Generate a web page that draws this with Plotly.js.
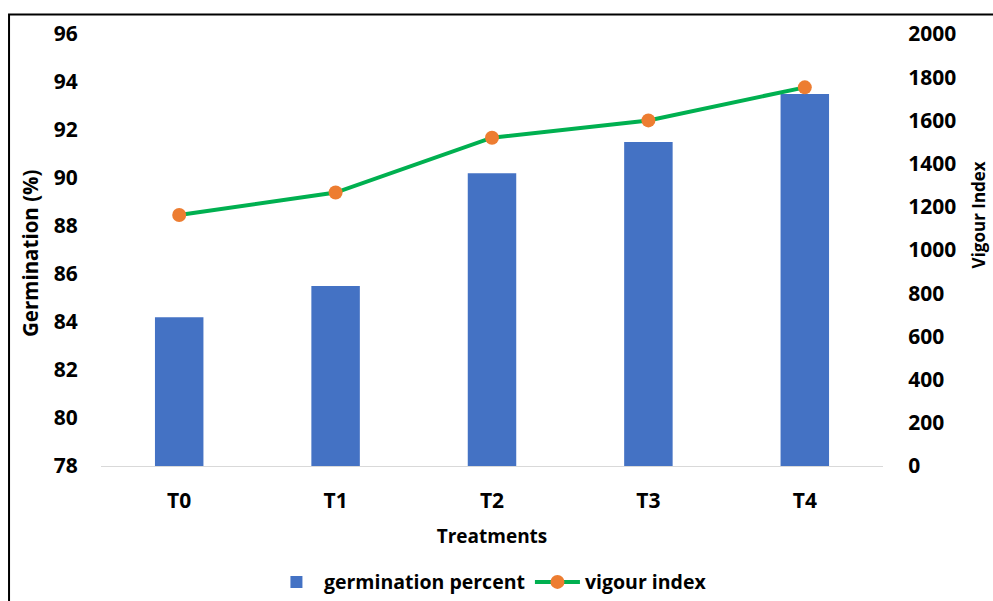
<!DOCTYPE html>
<html>
<head>
<meta charset="utf-8">
<script src="https://cdn.plot.ly/plotly-3.0.1.min.js"></script>
<style>html,body{margin:0;padding:0;background:#fff;}#chart{width:993px;height:601px;}</style>
</head>
<body>
<div id="chart"></div>
<script>
const categories = ["T0", "T1", "T2", "T3", "T4"];
const germinationPercent = [84.2, 85.5, 90.2, 91.5, 93.5];
const vigourIndex = [1162, 1266, 1520, 1600, 1753];
const leftTicks = [78, 80, 82, 84, 86, 88, 90, 92, 94, 96];
const rightTicks = [0, 200, 400, 600, 800, 1000, 1200, 1400, 1600, 1800, 2000];

const FONT = "'Open Sans', 'Noto Sans', sans-serif";

const traces = [
  {
    type: "bar",
    name: "germination percent",
    x: categories,
    y: germinationPercent,
    marker: {color: "#4472C4"},
    width: 0.31,
    yaxis: "y"
  },
  {
    type: "scatter",
    mode: "lines+markers",
    name: "vigour index",
    x: categories,
    y: vigourIndex,
    line: {color: "#00B050", width: 4},
    marker: {color: "#ED7D31", size: 14},
    yaxis: "y2"
  }
];

const layout = {
  width: 993,
  height: 601,
  margin: {l: 101, r: 110, t: 34, b: 135, autoexpand: false},
  paper_bgcolor: "#ffffff",
  plot_bgcolor: "#ffffff",
  font: {family: FONT, size: 17, color: "#000000", weight: "bold"},
  showlegend: true,
  legend: {
    orientation: "h",
    x: 0.498, xanchor: "center",
    y: -0.269, yanchor: "middle",
    font: {family: FONT, size: 19.5, color: "#000", weight: "bold"},
    itemwidth: 45
  },
  xaxis: {
    type: "category",
    showline: true,
    linecolor: "#d9d9d9",
    linewidth: 1,
    showgrid: false,
    zeroline: false,
    ticks: "outside",
    ticklen: 16,
    tickcolor: "rgba(0,0,0,0)",
    tickfont: {family: FONT, size: 21, weight: "bold"},
    title: {text: "Treatments", font: {family: FONT, size: 19, weight: "bold"}, standoff: 16}
  },
  yaxis: {
    range: [78, 96],
    tickvals: leftTicks,
    ticktext: leftTicks.map(String),
    showgrid: false,
    zeroline: false,
    showline: false,
    ticks: "outside",
    ticklen: 18,
    tickcolor: "rgba(0,0,0,0)",
    tickfont: {family: FONT, size: 21, weight: "bold"}
  },
  yaxis2: {
    range: [0, 2000],
    tickvals: rightTicks,
    ticktext: rightTicks.map(String),
    overlaying: "y",
    side: "right",
    showgrid: false,
    zeroline: false,
    showline: false,
    ticks: "outside",
    ticklen: 20,
    tickcolor: "rgba(0,0,0,0)",
    tickfont: {family: FONT, size: 21, weight: "bold"}
  },
  annotations: [
    {
      text: "Germination (%)", textangle: -90,
      xref: "paper", yref: "paper", x: -0.0908, y: 0.493,
      xanchor: "center", yanchor: "middle", showarrow: false,
      font: {family: FONT, size: 20.5, weight: "bold", color: "#000"}
    },
    {
      text: "Vigour Index", textangle: -90,
      xref: "paper", yref: "paper", x: 1.122, y: 0.581,
      xanchor: "center", yanchor: "middle", showarrow: false,
      font: {family: FONT, size: 17, weight: "bold", color: "#000"}
    }
  ],
  shapes: [
    {
      type: "rect", xref: "paper", yref: "paper",
      x0: -0.1176, x1: 1.3, y0: -0.6, y1: 1.045,
      line: {color: "#000000", width: 2},
      fillcolor: "rgba(0,0,0,0)",
      layer: "below"
    }
  ]
};

Plotly.newPlot("chart", traces, layout, {displayModeBar: false, staticPlot: true});
</script>
</body>
</html>
